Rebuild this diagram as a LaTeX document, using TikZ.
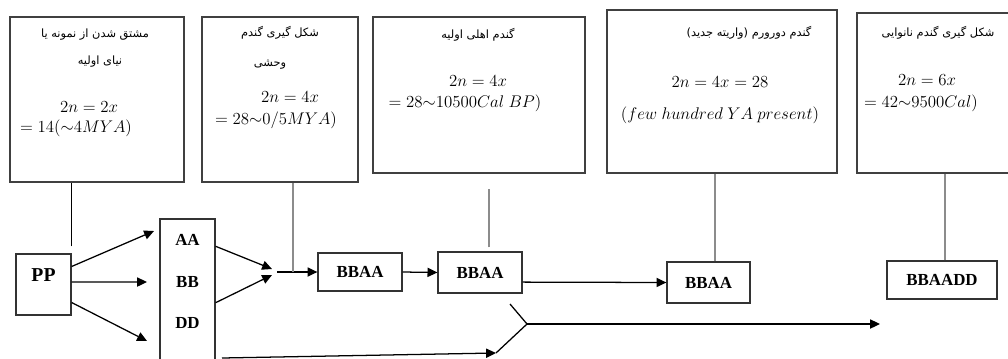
\documentclass[tikz,border=0pt]{standalone}
\usepackage{fontspec}
\setmainfont{Liberation Serif}
\newfontfamily\arabicfont[Script=Arabic]{DejaVu Sans}
\TeXXeTstate=1
\usetikzlibrary{arrows.meta, positioning}

\newcommand{\fa}[1]{{\arabicfont\beginR #1\endR}}

\begin{document}
\begin{tikzpicture}[x=0.025cm, y=-0.025cm,
    infobox/.style={
        rectangle, draw=black!75, line width=0.9pt, inner sep=0pt
    },
    gene/.style={
        rectangle, draw=black!80, line width=0.9pt, inner sep=0pt,
        minimum height=0.95cm, font=\bfseries\fontsize{12}{14}\selectfont
    },
    fatext/.style={inner sep=0pt, font=\fontsize{8.1}{10}\selectfont},
    mtext/.style={inner sep=0pt, font=\fontsize{12.5}{14}\selectfont},
    arr/.style={-{Triangle[length=7pt, width=6.5pt]}, line width=0.9pt},
    link/.style={line width=0.8pt, black!45},
]
\clip (0,0) rectangle (1008,358);

% top boxes
\node[infobox, minimum width=4.35cm,  minimum height=4.125cm] (d1) at (97,99.5)  {};
\node[infobox, minimum width=3.9cm,   minimum height=4.125cm] (d2) at (280,99.5) {};
\node[infobox, minimum width=5.3cm,   minimum height=3.9cm]   (d3) at (479,95)   {};
\node[infobox, minimum width=5.75cm,  minimum height=4.075cm] (d4) at (722,91.5) {};
\node[infobox, minimum width=4.075cm, minimum height=4cm]     (d5) at (938.5,93) {};

\node[fatext] (f1a) at (95,35)  {\fa{مشتق شدن از نمونه یا}};
\node[fatext] (f1b) at (100,62) {\fa{نیای اولیه}};
\node[mtext]  (m1a) at (89,107) {$2n = 2x$};
\node[mtext]  (m1b) at (76,128) {$= 14({\sim}4MYA)$};

\node[fatext] (f2a) at (280,33) {\fa{شکل گیری گندم}};
\node[fatext] (f2b) at (270,65) {\fa{وحشی}};
\node[mtext]  (m2a) at (290,97)  {$2n = 4x$};
\node[mtext]  (m2b) at (276,120) {$= 28{\sim}0/5MYA)$};

\node[fatext] (f3)  at (478,35)  {\fa{گندم اهلی اولیه}};
\node[mtext]  (m3a) at (478,81)  {$2n = 4x$};
\node[mtext]  (m3b) at (465,103) {$= 28{\sim}10500Cal\ BP)$};

\node[fatext] (f4)  at (749,33)  {\fa{گندم دورورم (واریته جدید)}};
\node[mtext]  (m4a) at (720,82)  {$2n = 4x = 28$};
\node[mtext]  (m4b) at (720,115) {$(few\ hundred\ YA\ present)$};

\node[fatext] (f5)  at (938,33)  {\fa{شکل گیری گندم نانوایی}};
\node[mtext]  (m5a) at (927,80)  {$2n = 6x$};
\node[mtext]  (m5b) at (921,103) {$= 42{\sim}9500Cal)$};

% genomes
\node[gene, minimum width=1.375cm, minimum height=1.525cm, text depth=14pt,
      font=\bfseries\fontsize{14}{16}\selectfont] (pp) at (43.5,284.5) {PP};
\node[gene, minimum width=1.375cm, minimum height=4.525cm] (gen) at (187.5,309.5) {};
\node[inner sep=0pt, font=\bfseries\fontsize{12}{14}\selectfont] (aa) at (187.5,240) {AA};
\node[inner sep=0pt, font=\bfseries\fontsize{12}{14}\selectfont] (bb) at (187.5,282) {BB};
\node[inner sep=0pt, font=\bfseries\fontsize{12}{14}\selectfont] (dd) at (187.5,323) {DD};
\node[gene, minimum width=2.1cm]                          (b1) at (360,272)   {BBAA};
\node[gene, minimum width=2.1cm,   minimum height=1.025cm] (b2) at (480,272.5) {BBAA};
\node[gene, minimum width=2.075cm, minimum height=1.025cm] (b3) at (708.5,282.5) {BBAA};
\node[gene, minimum width=2.75cm]                         (b4) at (942,280)   {BBAADD};

\coordinate (p1) at (154,231);
\coordinate (p2) at (147,282);
\coordinate (p3) at (147,341);
\coordinate (j1) at (272,269);
\coordinate (j2) at (272,275);
\coordinate (j3) at (277,272);
\coordinate (jn) at (293,272);
\coordinate (s0) at (222,358);
\coordinate (v1) at (510,304);
\coordinate (v2) at (527,324);
\coordinate (v3) at (496,353);
\coordinate (v4) at (880,324);

\draw[arr] ([yshift=0.45cm]pp.east) -- (p1);
\draw[arr] ([yshift=0.06cm]pp.east) -- (p2);
\draw[arr] ([yshift=-0.45cm]pp.east) -- (p3);
\draw[arr] ([yshift=1.58cm]gen.east) -- (j1);
\draw[arr] ([yshift=0.17cm]gen.east) -- (j2);
\draw[arr] (j3) -- (b1.west);
\draw[arr] (b1.east) -- (b2.west);
\draw[arr] ([yshift=-0.24cm]b2.east) -- (b3.west);
\draw[arr] (s0) -- (v3);
\draw[line width=0.9pt] (v1) -- (v2) -- (v3);
\draw[arr] (v2) -- (v4);

% links to boxes
\draw[line width=0.8pt] ([yshift=0.175cm]pp.north east) -- (pp.north east |- d1.south);
\draw[link] (jn) -- (jn |- d2.south);
\draw[link] ([xshift=0.225cm, yshift=0.1cm]b2.north) -- ([xshift=0.225cm, yshift=-0.375cm]b2.north |- d3.south);
\draw[link] ([xshift=0.1625cm]b3.north) -- ([xshift=0.1625cm]b3.north |- d4.south);
\draw[link] ([xshift=0.075cm]b4.north) -- ([xshift=0.075cm]b4.north |- d5.south);

\end{tikzpicture}
\end{document}
